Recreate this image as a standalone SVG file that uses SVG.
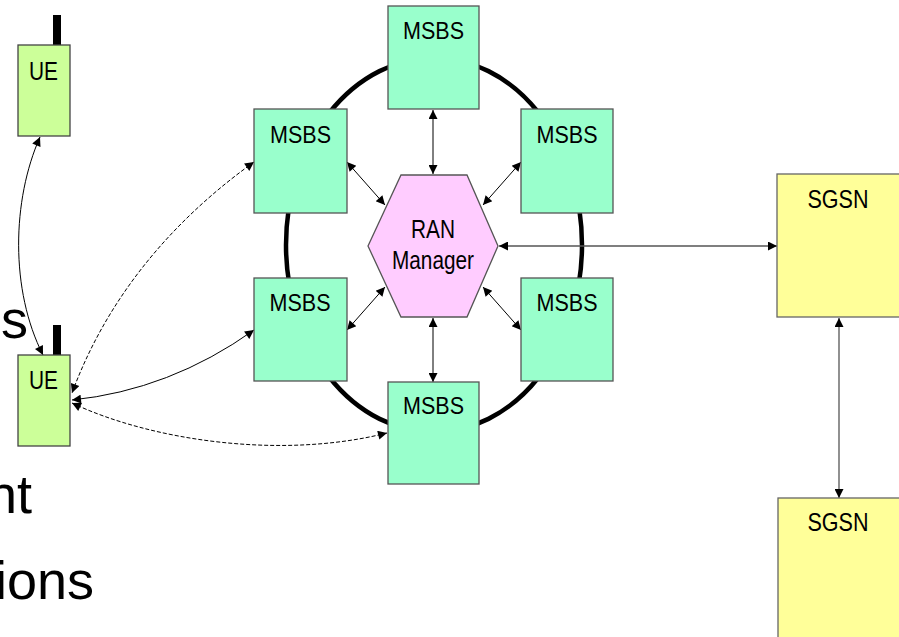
<svg xmlns="http://www.w3.org/2000/svg" width="899" height="637" viewBox="0 0 899 637">
<style>
.bg{font-family:"Liberation Sans",Arial,sans-serif;font-size:54px;fill:#000}
.lbl{font-family:"Liberation Sans",Arial,sans-serif;fill:#000;text-anchor:middle}
.ue{fill:#ccff99;stroke:#444;stroke-width:1.3}
.ms{fill:#99ffcc;stroke:#555;stroke-width:1.3}
.sg{fill:#ffff99;stroke:#666;stroke-width:1.3}
.hex{fill:#ffccff;stroke:#555;stroke-width:1.3}
.ant{fill:#000}
.c{fill:none;stroke:#000;stroke-width:1;marker-start:url(#a);marker-end:url(#a)}
.d{stroke-dasharray:4 2}
.c2{fill:none;stroke:#555;stroke-width:1.3;marker-start:url(#a);marker-end:url(#a)}
</style>
<defs>
<marker id="a" viewBox="0 0 10 10" refX="10" refY="5" markerWidth="12" markerHeight="9" orient="auto-start-reverse" markerUnits="userSpaceOnUse">
<path d="M0,0 L10,5 L0,10 z" fill="#000"/>
</marker>
</defs>
<rect width="899" height="637" fill="#fff"/>
<g id="background-text">
<text class="bg" x="28" y="338" text-anchor="end" font-size="57">s</text>
<text class="bg" x="32" y="513" text-anchor="end">nt</text>
<text class="bg" x="94" y="599" text-anchor="end">ions</text>
</g>
<g id="ring">
<ellipse cx="434" cy="245" rx="148" ry="187" fill="none" stroke="#000" stroke-width="4.5"/>
</g>
<g id="connectors">
<path class="c" d="M433 110 L433 174"/>
<path class="c" d="M347 162 L385 205"/>
<path class="c" d="M521 162 L483 205"/>
<path class="c" d="M385 287 L347 330"/>
<path class="c" d="M483 287 L521 330"/>
<path class="c" d="M433 318 L433 382"/>
<path class="c2" d="M499 246 L777 246"/>
<path class="c2" d="M839 318 L839 498"/>
<path class="c" d="M40 137 C 12 200, 10 290, 43 355"/>
<path class="c d" d="M254 162 C 180 215, 110 290, 72 393"/>
<path class="c" d="M254 330 Q 170 390, 72 400"/>
<path class="c d" d="M72 403 C 150 440, 280 460, 387 433"/>
</g>
<g id="ue1">
<rect class="ant" x="53" y="15" width="8" height="30"/>
<rect class="ue" x="18" y="45" width="52" height="91"/>
<text class="lbl" x="43.5" y="80" font-size="25" textLength="29" lengthAdjust="spacingAndGlyphs">UE</text>
</g>
<g id="ue2">
<rect class="ant" x="53" y="325" width="8" height="30"/>
<rect class="ue" x="18" y="355" width="52" height="91"/>
<text class="lbl" x="43.5" y="389" font-size="25" textLength="29" lengthAdjust="spacingAndGlyphs">UE</text>
</g>
<g id="msbs-top">
<rect class="ms" x="388" y="6" width="91" height="103"/>
<text class="lbl" x="433.5" y="39" font-size="24" textLength="61" lengthAdjust="spacingAndGlyphs">MSBS</text>
</g>
<g id="msbs-left-top">
<rect class="ms" x="254" y="109" width="93" height="104"/>
<text class="lbl" x="300.5" y="143" font-size="24" textLength="61" lengthAdjust="spacingAndGlyphs">MSBS</text>
</g>
<g id="msbs-right-top">
<rect class="ms" x="521" y="109" width="92" height="104"/>
<text class="lbl" x="567" y="143" font-size="24" textLength="61" lengthAdjust="spacingAndGlyphs">MSBS</text>
</g>
<g id="msbs-left-bottom">
<rect class="ms" x="254" y="278" width="93" height="103"/>
<text class="lbl" x="300" y="311" font-size="24" textLength="61" lengthAdjust="spacingAndGlyphs">MSBS</text>
</g>
<g id="msbs-right-bottom">
<rect class="ms" x="521" y="278" width="92" height="103"/>
<text class="lbl" x="567" y="311" font-size="24" textLength="61" lengthAdjust="spacingAndGlyphs">MSBS</text>
</g>
<g id="msbs-bottom">
<rect class="ms" x="388" y="382" width="91" height="102"/>
<text class="lbl" x="433.5" y="414" font-size="24" textLength="61" lengthAdjust="spacingAndGlyphs">MSBS</text>
</g>
<g id="ran-manager">
<polygon class="hex" points="368,246 401,175 467,175 498,246 467,317 401,317"/>
<text class="lbl" x="433" y="238" font-size="26" textLength="44" lengthAdjust="spacingAndGlyphs">RAN</text>
<text class="lbl" x="433" y="269" font-size="26" textLength="82" lengthAdjust="spacingAndGlyphs">Manager</text>
</g>
<g id="sgsn-top">
<rect class="sg" x="777" y="174" width="130" height="143"/>
<text class="lbl" x="838" y="208" font-size="25" textLength="61" lengthAdjust="spacingAndGlyphs">SGSN</text>
</g>
<g id="sgsn-bottom">
<rect class="sg" x="778" y="498" width="130" height="150"/>
<text class="lbl" x="838" y="531" font-size="25" textLength="61" lengthAdjust="spacingAndGlyphs">SGSN</text>
</g>
</svg>
